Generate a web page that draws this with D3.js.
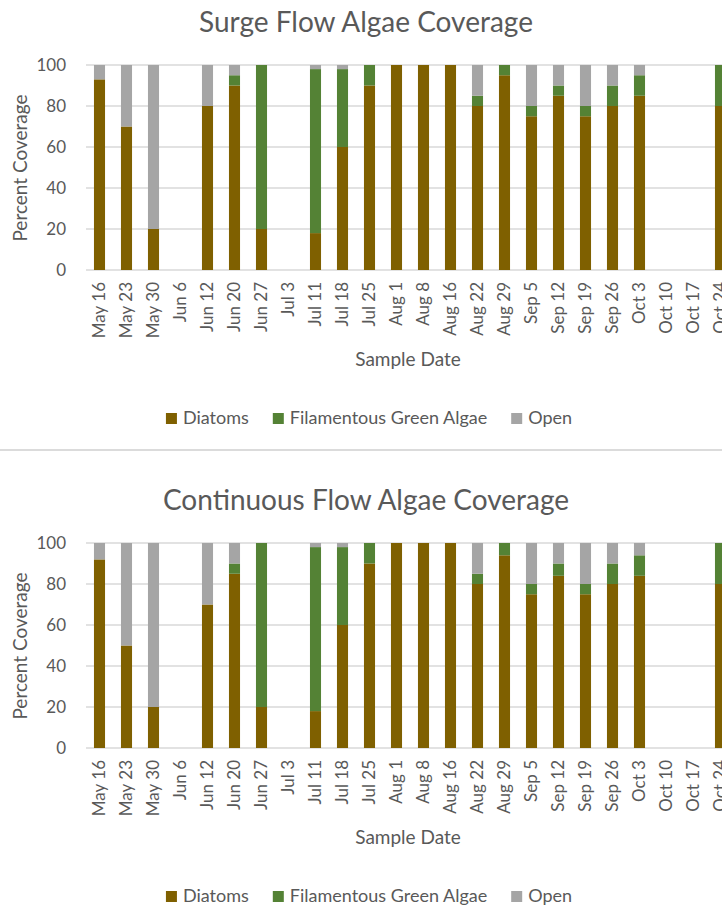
<!DOCTYPE html>
<html><head><meta charset="utf-8">
<script src="https://cdn.jsdelivr.net/npm/d3@7"></script>
<style>
body{margin:0;background:#fff;overflow:hidden}
text{font-family:Lato,"Open Sans",sans-serif;fill:#595959}
</style>
</head><body>
<svg id="c" width="722" height="905"></svg>
<script>
// ---- data ----
const dates = ["May 16","May 23","May 30","Jun 6","Jun 12","Jun 20","Jun 27","Jul 3","Jul 11","Jul 18","Jul 25","Aug 1","Aug 8","Aug 16","Aug 22","Aug 29","Sep 5","Sep 12","Sep 19","Sep 26","Oct 3","Oct 10","Oct 17","Oct 24"];
const seriesNames = ["Diatoms","Filamentous Green Algae","Open"];
const seriesColors = ["#7F6000","#548235","#A5A5A5"];
const yTicks = [0,20,40,60,80,100];

const surgeDiatoms = [93,70,20,null,80,90,20,null,18,60,90,100,100,100,80,95,75,85,75,80,85,null,null,80];
const surgeGreen   = [0,0,0,null,0,5,80,null,80,38,10,0,0,0,5,5,5,5,5,10,10,null,null,20];
const surgeOpen    = [7,30,80,null,20,5,0,null,2,2,0,0,0,0,15,0,20,10,20,10,5,null,null,0];

const contDiatoms = [92,50,20,null,70,85,20,null,18,60,90,100,100,100,80,94,75,84,75,80,84,null,null,80];
const contGreen   = [0,0,0,null,0,5,80,null,80,38,10,0,0,0,5,6,5,6,5,10,10,null,null,20];
const contOpen    = [8,50,80,null,30,10,0,null,2,2,0,0,0,0,15,0,20,10,20,10,6,null,null,0];

const charts = [
  {title:"Surge Flow Algae Coverage", values:[surgeDiatoms,surgeGreen,surgeOpen]},
  {title:"Continuous Flow Algae Coverage", values:[contDiatoms,contGreen,contOpen]}
];

// ---- layout ----
const svg = d3.select("#c");
const chartH = 478;
const grid = "#D9D9D9";

charts.forEach((ch, ci) => {
  const oy = ci * chartH;
  const g = svg.append("g").attr("transform", `translate(0,${oy})`);

  // frame
  g.append("rect").attr("x",-20).attr("y",-28).attr("width",780).attr("height",478)
    .attr("fill","none").attr("stroke",grid).attr("stroke-width",1.5);

  const x = d3.scaleBand().domain(dates).range([86,734]).paddingInner(0.59).paddingOuter(0.295);
  const y = d3.scaleLinear().domain([0,100]).range([270,65]);

  // title
  g.append("text").attr("x",366).attr("y",32).attr("text-anchor","middle")
    .style("font-size","28px").text(ch.title);

  // gridlines
  g.append("g").selectAll("line").data(yTicks).join("line")
    .attr("x1",86).attr("x2",740).attr("y1",d=>y(d)).attr("y2",d=>y(d))
    .attr("stroke",grid).attr("stroke-width",1.3);

  // y axis labels
  const ya = g.append("g").attr("transform","translate(86,0)")
    .call(d3.axisLeft(y).tickValues(yTicks).tickSize(0).tickPadding(20));
  ya.select(".domain").remove();
  ya.selectAll("text").style("font-size","17px").attr("fill","#595959").style("font-family","Lato,'Open Sans',sans-serif");

  // stacked bars
  const rows = dates.map((d,i) => {
    const r = {date:d};
    seriesNames.forEach((s,si) => r[s] = ch.values[si][i] || 0);
    return r;
  });
  const stack = d3.stack().keys(seriesNames)(rows);
  stack.forEach((layer, li) => {
    g.append("g").attr("fill", seriesColors[li]).selectAll("rect")
      .data(layer.filter(d => d[1] - d[0] > 0)).join("rect")
      .attr("x", d => x(d.data.date)).attr("width", x.bandwidth())
      .attr("y", d => y(d[1])).attr("height", d => y(d[0]) - y(d[1]));
  });

  // x axis labels
  const xa = g.append("g").attr("transform",`translate(0,${y(0)})`)
    .call(d3.axisBottom(x).tickSize(0));
  xa.select(".domain").remove();
  xa.selectAll("text")
    .style("font-size","17px").attr("fill","#595959").style("font-family","Lato,'Open Sans',sans-serif")
    .attr("transform","rotate(-90)").attr("text-anchor","end")
    .attr("x",-12).attr("y",0).attr("dy","0.35em");

  // axis titles
  g.append("text").attr("transform","translate(20,168) rotate(-90)")
    .attr("text-anchor","middle").attr("dy","0.35em").style("font-size","19px").text("Percent Coverage");
  g.append("text").attr("x",408).attr("y",366).attr("text-anchor","middle")
    .style("font-size","19px").text("Sample Date");

  // legend
  const lg = g.append("g");
  let cx = 0;
  seriesNames.forEach((s, si) => {
    const it = lg.append("g").attr("transform",`translate(${cx},0)`);
    it.append("rect").attr("x",0).attr("y",-11).attr("width",11).attr("height",11).attr("fill",seriesColors[si]);
    const t = it.append("text").attr("x",17).attr("y",0).style("font-size","18px").text(s);
    cx += 17 + t.node().getComputedTextLength() + 24;
  });
  const lw = cx - 24;
  lg.attr("transform",`translate(${369 - lw/2},424)`);
});
</script>
</body></html>
